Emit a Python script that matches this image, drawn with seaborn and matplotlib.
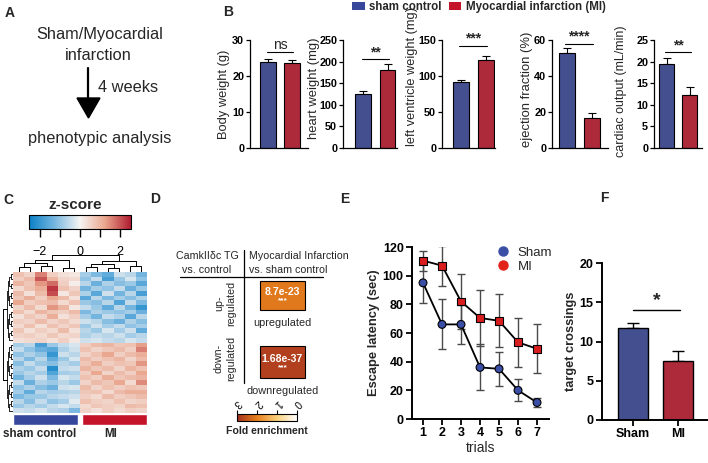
import numpy as np
import pandas as pd
import matplotlib
matplotlib.use('Agg')
import matplotlib.pyplot as plt
import seaborn as sns
from matplotlib.colors import LinearSegmentedColormap, Normalize
from matplotlib.patches import Rectangle, Polygon, Patch
from matplotlib.lines import Line2D
from matplotlib.cm import ScalarMappable
from matplotlib import font_manager

sns.set_theme(style='ticks')
plt.rcParams['font.family'] = ['Liberation Sans', 'DejaVu Sans']
plt.rcParams['axes.linewidth'] = 0.9
plt.rcParams['xtick.major.width'] = 0.9
plt.rcParams['ytick.major.width'] = 0.9
plt.rcParams['xtick.color'] = 'black'
plt.rcParams['ytick.color'] = 'black'
plt.rcParams['axes.edgecolor'] = 'black'

_names = {f.name for f in font_manager.fontManager.ttflist}
NARROW = ['Liberation Sans Narrow', 'Liberation Sans'] if 'Liberation Sans Narrow' in _names else ['Liberation Sans']

# ---------------- data ----------------
BLUE = '#37479b'
RED = '#c3142a'

# Panel B
b_groups = ['sham control', 'Myocardial infarction (MI)']
b_labels = ['Body weight (g)', 'heart weight (mg)', 'left ventricle weight (mg)',
            'ejection fraction (%)', 'cardiac output (mL/min)']
b_sham = [24.0, 125, 91, 53, 19.5]
b_mi = [23.5, 181, 122, 16.5, 12.3]
b_sham_err = [0.8, 6, 4, 2.5, 1.3]
b_mi_err = [0.9, 14, 6, 3.0, 1.8]
b_sig = ['ns', '**', '***', '****', '**']
b_sig_y = [26.7, 206, 142, 57.8, 22.2]
b_ymax = [30, 250, 150, 60, 25]
b_ticks = [[0, 10, 20, 30], [0, 50, 100, 150, 200, 250], [0, 50, 100, 150],
           [0, 20, 40, 60], [0, 5, 10, 15, 20, 25]]

# Panel C heatmap (z-scores, rows = genes, cols = 6 sham + 6 MI)
c_cols = ['S1', 'S2', 'S3', 'S4', 'S5', 'S6', 'M1', 'M2', 'M3', 'M4', 'M5', 'M6']
c_z = [
    [0.8, 0.5, 1.6, 0.6, 0.3, 0.2, -0.8, -1.2, -1.5, -0.4, -0.6, -1.3],
    [0.6, 0.9, 2.0, 1.0, 0.5, 0.4, -1.0, -0.5, -1.8, -0.9, -0.3, -1.0],
    [1.0, 0.7, 1.4, 1.8, 0.6, 0.1, -0.6, -1.4, -0.7, -1.1, -0.9, -1.6],
    [0.4, 0.8, 1.1, 2.3, 0.8, 0.5, -1.3, -0.8, -1.0, -0.5, -1.4, -0.9],
    [0.9, 0.3, 0.9, 2.1, 0.2, 0.7, -0.7, -1.6, -0.4, -1.3, -0.6, -1.8],
    [0.7, 1.1, 0.6, 1.2, 0.9, 0.3, -1.6, -0.6, -1.2, -0.8, -1.1, -0.7],
    [1.2, 0.6, 0.8, 0.9, 0.4, 0.8, -0.9, -1.1, -0.6, -1.7, -0.5, -1.2],
    [0.5, 0.9, 0.4, 1.4, 1.0, 0.2, -0.5, -0.9, -1.5, -0.6, -1.3, -2.0],
    [0.8, 0.4, 1.0, 0.7, 0.6, 0.9, -1.2, -0.7, -0.9, -1.0, -0.8, -1.4],
    [0.3, 0.7, 0.5, 1.1, 0.3, 0.6, -0.8, -1.3, -0.5, -0.7, -1.6, -0.6],
    [0.6, 0.5, 0.9, 0.5, 0.7, 0.4, -0.4, -0.6, -1.1, -1.4, -0.7, -1.1],
    [0.4, 0.8, 0.3, 0.8, 0.5, 0.7, -0.9, -0.4, -0.8, -0.5, -1.0, -0.8],
    [0.7, 0.3, 0.6, 0.4, 0.9, 0.3, -0.6, -0.9, -0.3, -0.8, -0.4, -1.5],
    [0.5, 0.6, 0.4, 0.7, 0.4, 0.5, -0.7, -0.5, -0.6, -0.4, -0.8, -0.6],
    [0.3, 0.4, 0.5, 0.3, 0.6, 0.2, -0.4, -0.3, -0.5, -0.6, -0.3, -0.5],
    [-0.8, -0.6, -1.8, -0.9, -0.5, -0.3, 0.6, 0.9, 1.0, 0.7, 0.8, 1.3],
    [-0.5, -1.0, -1.4, -1.6, -0.7, -0.4, 0.8, 0.5, 0.7, 0.9, 0.6, 1.6],
    [-1.0, -0.7, -1.0, -2.0, -0.4, -0.6, 0.5, 0.8, 1.2, 0.6, 0.9, 1.1],
    [-0.6, -1.2, -0.6, -1.5, -0.9, -0.3, 0.9, 0.6, 0.8, 1.0, 0.5, 0.9],
    [-1.1, -0.5, -0.9, -1.1, -0.6, -0.8, 0.7, 1.1, 0.6, 0.8, 0.7, 1.4],
    [-0.7, -0.9, -0.5, -2.2, -0.5, -0.4, 1.0, 0.7, 0.9, 0.5, 1.0, 0.8],
    [-0.9, -0.6, -0.8, -1.7, -0.8, -0.7, 0.6, 1.2, 0.5, 0.9, 0.6, 1.2],
    [-1.3, -0.8, -0.4, -1.2, -0.3, -0.5, 0.8, 0.6, 1.1, 0.7, 0.9, 1.0],
    [-0.5, -1.4, -0.7, -0.9, -0.6, -0.9, 0.5, 0.9, 0.7, 1.2, 0.4, 1.5],
    [-1.0, -0.7, -1.1, -1.4, -0.4, -0.3, 0.9, 0.5, 0.8, 0.6, 0.8, 0.7],
    [-0.8, -1.5, -0.6, -0.8, -0.7, -0.6, 0.7, 0.8, 0.4, 0.9, 1.1, 1.1],
    [-1.2, -0.9, -0.9, -0.6, -0.5, -0.4, 0.6, 0.4, 0.9, 0.6, 0.7, 0.9],
    [-0.6, -1.1, -0.5, -1.0, -0.8, -0.2, 0.8, 0.6, 0.5, 0.8, 0.5, 0.6],
    [-0.9, -0.6, -0.8, -0.5, -0.3, -0.5, 0.4, 0.7, 0.6, 0.5, 0.9, 0.8],
    [-0.4, -0.5, -0.3, -0.6, -0.7, -1.2, 0.5, 0.3, 0.6, 0.4, 0.6, 0.5],
]
# column dendrogram links: (x_left, h_left, x_right, h_right, h_top) in column units
c_links = [
    (0.5, 0, 1.5, 0, 0.30), (2.5, 0, 3.5, 0, 0.35), (4.5, 0, 5.5, 0, 0.25),
    (1.0, 0.30, 3.0, 0.35, 0.55), (2.0, 0.55, 5.0, 0.25, 0.70),
    (6.5, 0, 7.5, 0, 0.30), (8.5, 0, 9.5, 0, 0.25), (10.5, 0, 11.5, 0, 0.35),
    (7.0, 0.30, 9.0, 0.25, 0.50), (8.0, 0.50, 11.0, 0.35, 0.65),
    (3.5, 0.70, 9.5, 0.65, 1.00),
]

# Panel D
d_fold = [2.1, 2.8]
d_pvals = ['8.7e-23', '1.68e-37']
d_names = ['upregulated', 'downregulated']

# Panel E
e_trials = [1, 2, 3, 4, 5, 6, 7]
e_sham = [95, 66, 66, 36, 35, 20, 11.5]
e_sham_err = [14, 17.5, 13.5, 16, 12, 7.7, 3]
e_mi = [110.5, 107, 82, 70.5, 68.5, 53.5, 49]
e_mi_err = [7, 14, 19, 19.5, 18.5, 17, 17]

# Panel F
f_groups = ['Sham', 'MI']
f_vals = [11.7, 7.5]
f_err = [0.7, 1.3]

# ---------------- figure ----------------
W, H = 708, 463
fig = plt.figure(figsize=(7.08, 4.63), dpi=100)


def rect(x0, y0, x1, y1):
    return [x0 / W, 1 - y1 / H, (x1 - x0) / W, (y1 - y0) / H]


# ---- Panel B ----
b_left = [250, 343, 442, 552, 654]
b_right = [308, 397, 495, 608, 702]
b_c0 = [268, 363, 460.5, 566.5, 666.5]
b_step = [24, 24.5, 25, 25, 23]
b_fs = [9.3, 9.4, 9.2, 9.4, 9.0]
b_lab_px = [(224, 94), (314, 88), (412, 76), (527, 89), (621, 91)]
B_TOP, B_BOT = 40, 148
for i in range(5):
    ax = fig.add_axes(rect(b_left[i], B_TOP, b_right[i], B_BOT))
    ax.set_facecolor('none')
    df = pd.DataFrame({'g': b_groups, 'v': [b_sham[i], b_mi[i]]})
    sns.barplot(data=df, x='g', y='v', hue='g', palette=[BLUE, RED], width=0.64,
                edgecolor='black', linewidth=0.8, legend=False, ax=ax, zorder=2)
    ax.errorbar([0, 1], [b_sham[i], b_mi[i]], yerr=[[0, 0], [b_sham_err[i], b_mi_err[i]]],
                fmt='none', ecolor='black', elinewidth=0.8, capsize=3, capthick=0.8, zorder=1)
    ax.set_xlim((b_left[i] - b_c0[i]) / b_step[i], (b_right[i] - b_c0[i]) / b_step[i])
    ax.set_ylim(0, b_ymax[i])
    ax.set_yticks(b_ticks[i])
    ax.set_yticklabels([str(t) for t in b_ticks[i]], fontweight='bold', fontsize=7.8,
                       family=NARROW)
    ax.tick_params(axis='y', length=3, pad=1.2)
    ax.set_xticks([])
    ax.set_xlabel('')
    ax.set_ylabel(b_labels[i], fontsize=b_fs[i])
    ax.yaxis.label.set_va('center')
    lx, ly = b_lab_px[i]
    ax.yaxis.set_label_coords((lx - b_left[i]) / (b_right[i] - b_left[i]),
                              (B_BOT - ly) / (B_BOT - B_TOP))
    sns.despine(ax=ax)
    ax.plot([-0.05, 1.05], [b_sig_y[i]] * 2, color='black', lw=0.8, clip_on=False)
    ax.text(0.5, b_sig_y[i], b_sig[i], ha='center', va='bottom', fontsize=10,
            fontweight='bold' if b_sig[i] != 'ns' else 'normal')

fig.legend(handles=[Patch(facecolor=BLUE, edgecolor='none', label=b_groups[0]),
                    Patch(facecolor=RED, edgecolor='none', label=b_groups[1])],
           loc='center', bbox_to_anchor=(479 / W, 1 - 7 / H), ncol=2, frameon=False,
           prop={'weight': 'bold', 'size': 8.3}, handlelength=1.1, handleheight=0.6,
           handletextpad=0.4, columnspacing=0.6, borderpad=0)

# ---- Panel C ----
zcmap = LinearSegmentedColormap.from_list('z', ['#0a80c6', '#76b6e0', '#f6f4f2', '#e9a48c', '#b01c30'])
zmin, zmax = -2.55, 2.55
axh = fig.add_axes(rect(13, 272, 147, 413))
sns.heatmap(pd.DataFrame(c_z, columns=c_cols), cmap=zcmap, vmin=zmin, vmax=zmax, cbar=False,
            xticklabels=False, yticklabels=False, ax=axh)
axh.set_xlabel('')
axh.set_ylabel('')

cax = fig.add_axes(rect(29, 215, 131, 229))
cb = fig.colorbar(ScalarMappable(norm=Normalize(zmin, zmax), cmap=zcmap), cax=cax,
                  orientation='horizontal')
cb.set_ticks([-2, -1, 0, 1, 2])
cb.set_ticklabels(['\u22122', '', '0', '', '2'])
cax.tick_params(length=6, width=1, labelsize=9, pad=6)
cb.outline.set_linewidth(0.8)

# column dendrogram
axcd = fig.add_axes(rect(13, 255, 147, 272))
for xl, hl, xr, hr, ht in c_links:
    axcd.plot([xl, xl, xr, xr], [hl, ht, ht, hr], color='black', lw=0.7)
axcd.set_xlim(0, 12)
axcd.set_ylim(0, 1.02)
axcd.axis('off')

# row dendrogram
axrd = fig.add_axes(rect(2, 272, 13, 413))
nrows = len(c_z)
r_heights = [0.2, 0.35, 0.5, 0.62, 0.72]


def row_tree(lo, hi):
    nodes = [(r + 0.5, 0.0) for r in range(lo, hi)]
    lvl = 0
    while len(nodes) > 1:
        h = r_heights[min(lvl, len(r_heights) - 1)]
        new = []
        for k in range(0, len(nodes) - 1, 2):
            (p1, h1), (p2, h2) = nodes[k], nodes[k + 1]
            axrd.plot([h1, h, h, h2], [p1, p1, p2, p2], color='black', lw=0.6)
            new.append(((p1 + p2) / 2, h))
        if len(nodes) % 2:
            new.append(nodes[-1])
        nodes = new
        lvl += 1
    return nodes[0]


(pa, ha) = row_tree(0, 15)
(pb, hb) = row_tree(15, nrows)
axrd.plot([ha, 1.0, 1.0, hb], [pa, pa, pb, pb], color='black', lw=0.7)
axrd.set_xlim(1.05, 0)
axrd.set_ylim(nrows, 0)
axrd.axis('off')

# group colour bar
axg = fig.add_axes(rect(13, 414, 147, 425))
axg.barh(0, 5.85, left=0, height=1, color=BLUE)
axg.barh(0, 5.85, left=6.15, height=1, color=RED)
axg.set_xlim(0, 12)
axg.set_ylim(-0.5, 0.5)
axg.axis('off')

# ---- Panel D colourbar ----
fcmap = LinearSegmentedColormap.from_list('f', ['#ffffff', '#f9cf7a', '#e7801c', '#a5301e'])
fnorm = Normalize(0, 3)
fax = fig.add_axes(rect(237, 414, 297, 421))
fcb = fig.colorbar(ScalarMappable(norm=fnorm, cmap=fcmap), cax=fax, orientation='horizontal')
fax.invert_xaxis()
fax.xaxis.set_ticks_position('top')
fcb.set_ticks([0, 1, 2, 3])
fcb.set_ticklabels(['0', '1', '2', '3'])
fax.tick_params(length=3, width=0.8, labelsize=7.5, pad=1, labelrotation=-135)
fcb.outline.set_linewidth(0.8)

# ---- Panel E ----
axe = fig.add_axes(rect(412, 247, 549, 419))
axe.set_facecolor('none')
dfe = pd.DataFrame({'trial': e_trials * 2, 'lat': e_sham + e_mi,
                    'group': ['Sham'] * 7 + ['MI'] * 7})
axe.errorbar(e_trials, e_sham, yerr=e_sham_err, fmt='none', ecolor='#4a4a4a',
             elinewidth=1, capsize=3, capthick=1, zorder=1)
axe.errorbar(e_trials, e_mi, yerr=e_mi_err, fmt='none', ecolor='#4a4a4a',
             elinewidth=1, capsize=3, capthick=1, zorder=1)
for g in ['Sham', 'MI']:
    sns.lineplot(data=dfe[dfe.group == g], x='trial', y='lat', color='black', lw=1.3,
                 ax=axe, zorder=2)
sns.scatterplot(data=dfe, x='trial', y='lat', hue='group', style='group',
                markers={'Sham': 'o', 'MI': 's'}, palette={'Sham': '#3a4ea6', 'MI': '#d81e1e'},
                s=32, edgecolor='black', linewidth=0.8, legend=False, ax=axe, zorder=3)
axe.set_xlim(0.42, 7.63)
axe.set_ylim(0, 120)
axe.set_xticks(e_trials)
axe.set_yticks([0, 20, 40, 60, 80, 100, 120])
for lab in axe.get_xticklabels() + axe.get_yticklabels():
    lab.set_fontweight('bold')
axe.tick_params(labelsize=9, length=4, width=1.3, pad=2)
for s in ['left', 'bottom']:
    axe.spines[s].set_linewidth(1.4)
sns.despine(ax=axe)
axe.set_xlabel('trials', fontsize=10, labelpad=1)
axe.set_ylabel('Escape latency (sec)', fontsize=9.3, fontweight='bold', labelpad=2)
axe.legend(handles=[Line2D([], [], marker='o', ls='none', color='#3a4ea6', markersize=6.5, label='Sham'),
                    Line2D([], [], marker='o', ls='none', color='#e2231a', markersize=6.5, label='MI')],
           loc='upper left', bbox_to_anchor=(0.52, 1.04), frameon=False, fontsize=9.5,
           handletextpad=0.1, labelspacing=0.1, borderpad=0)

# ---- Panel F ----
axf = fig.add_axes(rect(602, 263, 708, 420))
axf.set_facecolor('none')
dff = pd.DataFrame({'g': f_groups, 'v': f_vals})
sns.barplot(data=dff, x='g', y='v', hue='g', palette=[BLUE, RED], width=0.67,
            edgecolor='black', linewidth=1, legend=False, ax=axf, zorder=2)
axf.errorbar([0, 1], f_vals, yerr=[[0, 0], f_err], fmt='none', ecolor='black',
             elinewidth=1, capsize=4, capthick=1, zorder=1)
axf.set_xlim(-0.69, 1.67)
axf.set_ylim(0, 20)
axf.set_yticks([0, 5, 10, 15, 20])
for lab in axf.get_xticklabels() + axf.get_yticklabels():
    lab.set_fontweight('bold')
axf.tick_params(labelsize=9, length=4, width=1.3, pad=2)
for s in ['left', 'bottom']:
    axf.spines[s].set_linewidth(1.4)
sns.despine(ax=axf)
axf.set_xlabel('')
axf.set_ylabel('target crossings', fontsize=9.2, fontweight='bold', labelpad=2)
axf.plot([0, 1.04], [14, 14], color='black', lw=1)
axf.text(0.52, 14.1, '*', ha='center', va='bottom', fontsize=14, fontweight='bold')

# ---- overlay: texts, panel A, panel D diagram ----
ov = fig.add_axes([0, 0, 1, 1])
ov.set_xlim(0, W)
ov.set_ylim(H, 0)
ov.axis('off')

for lab, x, y in [('A', 10, 13), ('B', 228, 12), ('C', 8, 200), ('D', 155, 199),
                  ('E', 345, 199), ('F', 604, 198)]:
    ov.text(x, y, lab, ha='center', va='center', fontsize=10, fontweight='bold')

# Panel A
ov.text(100, 35, 'Sham/Myocardial', ha='center', va='center', fontsize=11.8)
ov.text(98, 55, 'infarction', ha='center', va='center', fontsize=11.8)
ov.plot([88, 88], [68, 100], color='black', lw=1.6)
ov.add_patch(Polygon([[77, 98], [100, 98], [88.5, 118]], closed=True, color='black'))
ov.text(98, 88, '4 weeks', ha='left', va='center', fontsize=11.8)
ov.text(100, 139, 'phenotypic analysis', ha='center', va='center', fontsize=11.8)

# Panel C texts
ov.text(75, 205, 'z-score', ha='center', va='center', fontsize=11, fontweight='bold')
ov.text(40, 434, 'sham control', ha='center', va='center', fontsize=8.4, fontweight='bold')
ov.text(111, 434, 'MI', ha='center', va='center', fontsize=8.4, fontweight='bold')

# Panel D diagram
ov.text(207, 256, 'CamkII\u03b4c TG', ha='center', va='center', fontsize=7.7)
ov.text(207, 270, 'vs. control', ha='center', va='center', fontsize=7.7)
ov.text(249, 256, 'Myocardial Infarction', ha='left', va='center', fontsize=7.7)
ov.text(249, 270, 'vs. sham control', ha='left', va='center', fontsize=7.7)
ov.plot([244, 244], [250, 383], color='black', lw=0.9)
ov.plot([180, 323], [277, 277], color='black', lw=0.9)
ov.text(219, 303, 'up-', ha='center', va='center', fontsize=7.7, rotation=90)
ov.text(231, 303, 'regulated', ha='center', va='center', fontsize=7.7, rotation=90)
ov.text(219, 358, 'down-', ha='center', va='center', fontsize=7.7, rotation=90)
ov.text(231, 358, 'regulated', ha='center', va='center', fontsize=7.7, rotation=90)
box_y = [(281, 310), (346, 378)]
for k in range(2):
    y0, y1 = box_y[k]
    ov.add_patch(Rectangle((260, y0), 45, y1 - y0, facecolor=fcmap(fnorm(d_fold[k])),
                           edgecolor='black', lw=0.8))
    ym = (y0 + y1) / 2
    ov.text(282.5, ym - 3.5, d_pvals[k], ha='center', va='center', color='white',
            fontsize=7.6, fontweight='bold')
    ov.text(282.5, ym + 5.5, '***', ha='center', va='center', color='white',
            fontsize=6, fontweight='bold')
    ov.text(282.5, y1 + 13, d_names[k], ha='center', va='center', fontsize=7.8)
ov.text(267, 431, 'Fold enrichment', ha='center', va='center', fontsize=7.6, fontweight='bold')

fig.savefig('out.png', dpi=100)
